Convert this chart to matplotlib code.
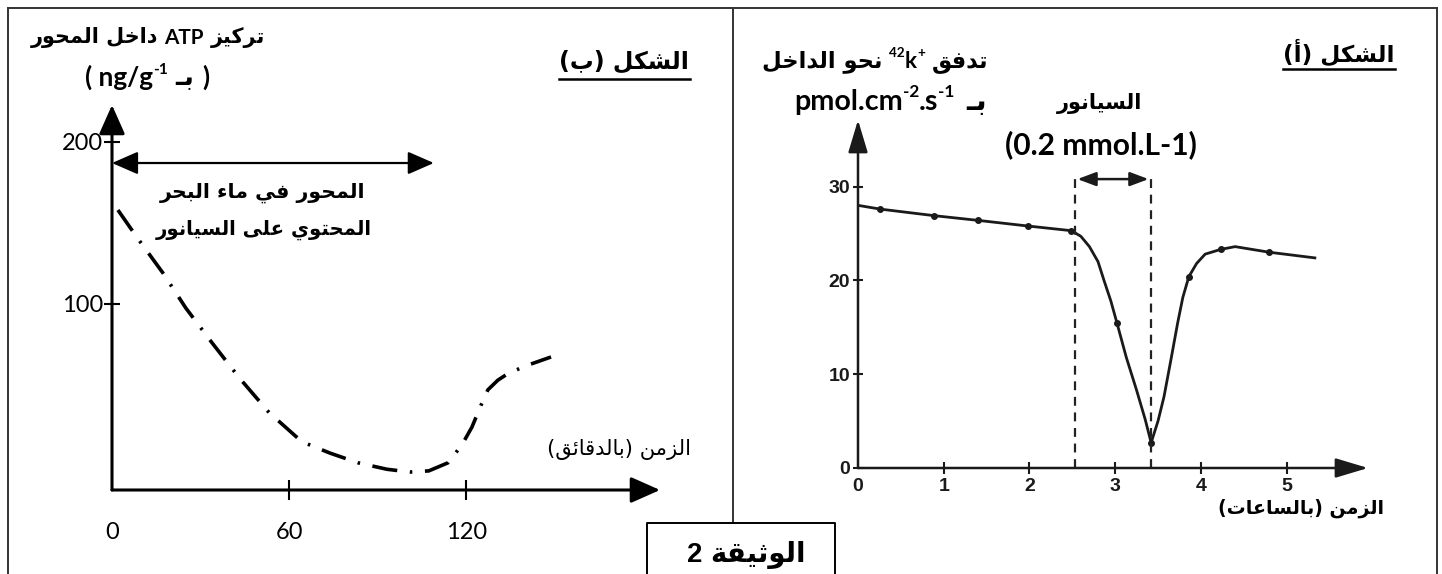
import matplotlib
matplotlib.use('Agg')
import matplotlib.pyplot as plt

W, H = 1442, 574

# ---------------- data ----------------
# Figure (b): ATP concentration inside the axon (ng/g-1) vs time (minutes)
atp_time = [2.0, 8.5, 17.3, 25, 33.9, 43.3, 53.2, 64.3, 73.8, 83.3, 93.1, 100.9,
            107.3, 113.8, 118.5, 121.9, 125, 127.3, 130.7, 134.4, 140.9, 148.7]
atp_conc = [158, 141, 119, 97.5, 76, 54, 33, 15, 8, 2, -2, -3.7,
            -3, 2, 13, 24, 37.6, 47, 53, 57.4, 62.3, 67.3]
atp_xticks = [0, 60, 120]
atp_yticks = [100, 200]
atp_cyanide_span = [0, 109]      # minutes, horizontal double arrow
atp_cyanide_level = 187

# Figure (a): 42K+ influx (pmol.cm-2.s-1) vs time (hours)
flux_time = [0, 0.26, 0.89, 1.4, 1.98, 2.49, 2.6, 2.7, 2.8, 2.87, 2.95, 3.02, 3.13,
             3.25, 3.35, 3.42, 3.5, 3.57, 3.65, 3.73, 3.79, 3.86, 3.95, 4.05, 4.23,
             4.4, 4.8, 5.33]
flux_value = [28.0, 27.6, 26.9, 26.4, 25.8, 25.3, 24.7, 23.6, 22.0, 20.0, 17.8, 15.5, 11.8,
              8.3, 5.2, 2.7, 5.0, 7.6, 11.5, 15.5, 18.2, 20.4, 21.8, 22.8, 23.3,
              23.6, 23.0, 22.4]
flux_dot_time = [0.26, 0.89, 1.4, 1.98, 2.49, 3.02, 3.42, 3.86, 4.23, 4.8]
flux_dot_value = [27.6, 26.9, 26.4, 25.8, 25.3, 15.5, 2.7, 20.4, 23.3, 23.0]
flux_xticks = [0, 1, 2, 3, 4, 5]
flux_yticks = [0, 10, 20, 30]
cyanide_hours = [2.53, 3.42]
cyanide_top = 31.1
cyanide_arrow_level = 30.8

# ---------------- Arabic shaping ----------------
DUAL = {0x0626: 0xFE89, 0x0628: 0xFE8F, 0x062A: 0xFE95, 0x062B: 0xFE99, 0x062C: 0xFE9D,
        0x062D: 0xFEA1, 0x062E: 0xFEA5, 0x0633: 0xFEB1, 0x0634: 0xFEB5, 0x0635: 0xFEB9,
        0x0636: 0xFEBD, 0x0637: 0xFEC1, 0x0638: 0xFEC5, 0x0639: 0xFEC9, 0x063A: 0xFECD,
        0x0641: 0xFED1, 0x0642: 0xFED5, 0x0643: 0xFED9, 0x0644: 0xFEDD, 0x0645: 0xFEE1,
        0x0646: 0xFEE5, 0x0647: 0xFEE9, 0x064A: 0xFEF1}
RIGHT = {0x0622: 0xFE81, 0x0623: 0xFE83, 0x0624: 0xFE85, 0x0625: 0xFE87, 0x0627: 0xFE8D,
         0x0629: 0xFE93, 0x062F: 0xFEA9, 0x0630: 0xFEAB, 0x0631: 0xFEAD, 0x0632: 0xFEAF,
         0x0648: 0xFEED, 0x0649: 0xFEEF}
LAMALEF = {0x0622: 0xFEF5, 0x0623: 0xFEF7, 0x0625: 0xFEF9, 0x0627: 0xFEFB}


def shape(s):
    units = []
    i = 0
    while i < len(s):
        c = ord(s[i])
        if c == 0x0644 and i + 1 < len(s) and ord(s[i + 1]) in LAMALEF:
            units.append(('R', LAMALEF[ord(s[i + 1])]))
            i += 2
            continue
        if c in DUAL:
            units.append(('D', DUAL[c]))
        elif c in RIGHT:
            units.append(('R', RIGHT[c]))
        elif c == 0x0640:
            units.append(('C', c))
        else:
            units.append(('U', c))
        i += 1
    out = []
    for k, (kind, base) in enumerate(units):
        if kind in 'UC':
            out.append(chr(base))
            continue
        prev = units[k - 1][0] if k > 0 else 'U'
        nxt = units[k + 1][0] if k + 1 < len(units) else 'U'
        jp = prev in 'DC'
        jn = kind == 'D' and nxt in 'DRC'
        off = 3 if (jp and jn) else 1 if jp else 2 if jn else 0
        out.append(chr(base + off))
    return ''.join(out)


def ar(s):
    v = shape(s)[::-1]
    return v.translate(str.maketrans({'(': ')', ')': '('}))


# ---------------- figure ----------------
fig = plt.figure(figsize=(W / 100, H / 100), dpi=100)
ov = fig.add_axes([0, 0, 1, 1])
ov.set_xlim(0, W)
ov.set_ylim(H, 0)
ov.axis('off')
renderer = fig.canvas.get_renderer()

AR = 'DejaVu Sans'
LAT = 'Lato'


def rich(pieces, x0, x1, yc, weight='bold', color='k', size=14):
    def build(sz):
        arts = []
        x = 0.0
        for p in pieces:
            fs = sz * p.get('rel', 1.0)
            x += p.get('gap', 0) * sz * 100 / 72
            t = ov.text(0, 0, p['s'], fontsize=fs, fontweight=weight,
                        family=p.get('fam', AR), ha='left', va='baseline', color=color)
            bb = t.get_window_extent(renderer)
            arts.append([t, x, p.get('dy', 0) * sz * 100 / 72, p.get('main', True)])
            x += bb.width
        return arts, x

    arts, tot = build(size)
    for a in arts:
        a[0].remove()
    size = size * (x1 - x0) / tot
    arts, tot = build(size)
    base = 300.0
    for t, xo, dy, m in arts:
        t.set_position((x0 + xo, base - dy))
    tops, bots = [], []
    for t, xo, dy, m in arts:
        if m:
            bb = t.get_window_extent(renderer)
            tops.append(H - bb.y1)
            bots.append(H - bb.y0)
    c = (min(tops) + max(bots)) / 2
    shift = yc - c
    for t, xo, dy, m in arts:
        t.set_position((x0 + xo, base - dy + shift))
    return size


# ---------------- table borders ----------------
bc = '#333333'
blw = 1.4
ov.plot([8, 1437], [8, 8], color=bc, lw=blw)
ov.plot([8, 8], [8, 574], color=bc, lw=blw)
ov.plot([1437, 1437], [8, 574], color=bc, lw=blw)
ov.plot([733, 733], [8, 523], color=bc, lw=blw)
ov.plot([647, 647, 835, 835], [574, 523, 523, 574], color='k', lw=blw)


def fpos(l, t, r, b):
    return [l / W, 1 - b / H, (r - l) / W, (b - t) / H]


# ---------------- left panel (b) ----------------
axL = fig.add_axes(fpos(112, 105, 660, 490))
axL.patch.set_visible(False)
axL.set_xlim(0, 185.6)
axL.set_ylim(-14.8, 222.8)
for s in axL.spines.values():
    s.set_visible(False)
arrow_kw = dict(arrowstyle='-|>,head_length=0.9,head_width=0.4', lw=2.2, color='k',
                shrinkA=0, shrinkB=0, mutation_scale=20)
axL.annotate('', xy=(1, 0), xytext=(0, 0), xycoords='axes fraction', arrowprops=arrow_kw)
axL.annotate('', xy=(0, 1), xytext=(0, 0), xycoords='axes fraction', arrowprops=arrow_kw)
axL.set_xticks(atp_xticks, [str(v) for v in atp_xticks])
axL.set_yticks(atp_yticks, [str(v) for v in atp_yticks])
axL.tick_params(axis='x', direction='inout', length=14, width=1.5, pad=16,
                labelsize=17)
axL.tick_params(axis='y', direction='inout', length=11, width=1.5, pad=1,
                labelsize=17)
for lab in axL.get_xticklabels() + axL.get_yticklabels():
    lab.set_family(LAT)
axL.xaxis.get_major_ticks()[0].tick1line.set_visible(False)
axL.plot(atp_time, atp_conc, color='k', lw=2.6, linestyle=(0, (7, 3.5, 0.7, 3.5)),
         dash_capstyle='butt')
axL.annotate('', xy=(atp_cyanide_span[1], atp_cyanide_level),
             xytext=(atp_cyanide_span[0], atp_cyanide_level),
             arrowprops=dict(arrowstyle='<|-|>,head_length=0.8,head_width=0.35', lw=1.6,
                             color='k', shrinkA=0, shrinkB=0, mutation_scale=20))

# ---------------- right panel (a) ----------------
axR = fig.add_axes(fpos(858, 120, 1368, 468))
axR.patch.set_visible(False)
axR.set_xlim(0, 5.95)
axR.set_ylim(0, 37.1)
for s in axR.spines.values():
    s.set_visible(False)
ink = '#1a1a1a'
arrow_kw2 = dict(arrowstyle='-|>,head_length=1.0,head_width=0.3', lw=1.8, color=ink,
                 shrinkA=0, shrinkB=0, mutation_scale=20)
axR.annotate('', xy=(1, 0), xytext=(0, 0), xycoords='axes fraction', arrowprops=arrow_kw2)
axR.annotate('', xy=(0, 1), xytext=(0, 0), xycoords='axes fraction', arrowprops=arrow_kw2)
axR.set_xticks(flux_xticks, [str(v) for v in flux_xticks])
axR.set_yticks(flux_yticks, [str(v) for v in flux_yticks])
axR.tick_params(axis='x', direction='inout', length=8, width=1.5, pad=3,
                labelsize=14, colors=ink)
axR.tick_params(axis='y', direction='inout', length=7, width=1.5, pad=2,
                labelsize=14, colors=ink)
for lab in axR.get_xticklabels() + axR.get_yticklabels():
    lab.set_family('Liberation Sans')
    lab.set_fontweight('bold')
axR.xaxis.get_major_ticks()[0].tick1line.set_visible(False)
axR.plot(flux_time, flux_value, color=ink, lw=2.0)
axR.plot(flux_dot_time, flux_dot_value, 'o', ms=4, color=ink)
axR.vlines(cyanide_hours, 0, cyanide_top, colors='#222222', lw=1.6,
           linestyles=(0, (4, 3)))
axR.annotate('', xy=(cyanide_hours[1] - 0.03, cyanide_arrow_level),
             xytext=(cyanide_hours[0] + 0.03, cyanide_arrow_level),
             arrowprops=dict(arrowstyle='<|-|>,head_length=0.8,head_width=0.3', lw=1.8,
                             color=ink, shrinkA=0, shrinkB=0, mutation_scale=14))

# ---------------- texts: left panel ----------------
rich([{'s': ar('داخل المحور')}, {'s': 'ATP', 'fam': LAT, 'gap': 0.3},
      {'s': ar('تركيز'), 'gap': 0.3}], 31, 266, 38)
rich([{'s': '( ng/g', 'fam': LAT}, {'s': '-1', 'fam': LAT, 'rel': 0.6, 'dy': 0.45, 'main': False},
      {'s': ar('بـ'), 'gap': 0.3}, {'s': ')', 'fam': LAT, 'gap': 0.3}], 85, 210, 78)
rich([{'s': ar('الشكل (ب)')}], 559, 690, 62)
ov.plot([559, 690], [79, 79], color='k', lw=1.8)
rich([{'s': ar('المحور في ماء البحر')}], 160, 366, 193)
rich([{'s': ar('المحتوي على السيانور')}], 156, 373, 230)
rich([{'s': ar('الزمن (بالدقائق)')}], 547, 693, 450, weight='normal')
rich([{'s': '2', 'fam': 'Liberation Sans'}, {'s': ar('الوثيقة'), 'gap': 0.3}], 687, 807, 555)

# ---------------- texts: right panel ----------------
rich([{'s': ar('الشكل (أ)')}], 1283, 1395, 53)
ov.plot([1283, 1395], [69, 69], color='k', lw=1.8)
rich([{'s': ar('نحو الداخل')},
      {'s': '42', 'fam': LAT, 'rel': 0.6, 'dy': 0.45, 'main': False, 'gap': 0.3},
      {'s': 'k', 'fam': LAT},
      {'s': '+', 'fam': LAT, 'rel': 0.6, 'dy': 0.45, 'main': False},
      {'s': ar('تدفق'), 'gap': 0.3}], 762, 989, 62)
rich([{'s': 'pmol.cm', 'fam': LAT},
      {'s': '-2', 'fam': LAT, 'rel': 0.6, 'dy': 0.45, 'main': False},
      {'s': '.s', 'fam': LAT},
      {'s': '-1', 'fam': LAT, 'rel': 0.6, 'dy': 0.45, 'main': False},
      {'s': ar('بـ'), 'gap': 0.4}], 794, 987, 102)
rich([{'s': ar('السيانور')}], 1057, 1143, 103)
rich([{'s': '(0.2 mmol.L-1)', 'fam': LAT}], 1005, 1198, 145)
rich([{'s': ar('الزمن (بالساعات)')}], 1218, 1384, 508)

fig.savefig('out.png', dpi=100)
